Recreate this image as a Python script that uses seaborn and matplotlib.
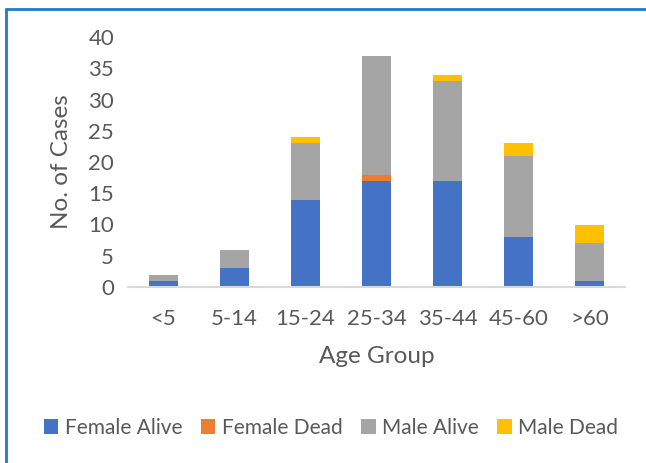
import numpy as np
import pandas as pd
import matplotlib
matplotlib.use("Agg")
import matplotlib.pyplot as plt
import seaborn as sns
from matplotlib.lines import Line2D
from matplotlib.patches import Patch

age_groups = ["<5", "5-14", "15-24", "25-34", "35-44", "45-60", ">60"]
female_alive = [1, 3, 14, 17, 17, 8, 1]
female_dead = [0, 0, 0, 1, 0, 0, 0]
male_alive = [1, 3, 9, 19, 16, 13, 6]
male_dead = [0, 0, 1, 0, 1, 2, 3]

series_names = ["Female Alive", "Female Dead", "Male Alive", "Male Dead"]
colors = ["#4472C4", "#ED7D31", "#A5A5A5", "#FFC000"]

sns.set_theme(style="white")
plt.rcParams["font.family"] = ["Lato", "DejaVu Sans"]

df = pd.DataFrame({
    "Age Group": age_groups,
    "Female Alive": female_alive,
    "Female Dead": female_dead,
    "Male Alive": male_alive,
    "Male Dead": male_dead,
})
cum = df[series_names].cumsum(axis=1)

fig = plt.figure(figsize=(6.46, 4.63), dpi=100)
ax = fig.add_axes([128 / 646, 1 - 287 / 463, (625 - 128) / 646, (287 - 37) / 463])

# layered cumulative bars (top series first)
for name, col in reversed(list(zip(series_names, colors))):
    sns.barplot(x=df["Age Group"], y=cum[name], color=col, width=0.4,
                saturation=1, ax=ax, linewidth=0, order=age_groups)

ax.set_ylim(0, 40)
ax.set_yticks(range(0, 41, 5))
ax.set_xlim(-0.5, 6.5)
text_col = "#595959"
ax.tick_params(axis="both", labelsize=16, colors=text_col, length=0)
ax.tick_params(axis="x", pad=16)
ax.tick_params(axis="y", pad=10)
for s in ["top", "right", "left"]:
    ax.spines[s].set_visible(False)
ax.spines["bottom"].set_color("#D9D9D9")
ax.spines["bottom"].set_linewidth(1.5)
ax.set_xlabel("Age Group", fontsize=17.5, color=text_col, labelpad=12)
ax.set_ylabel("No. of Cases", fontsize=17.5, color=text_col, labelpad=12)
ax.grid(False)

handles = [Patch(facecolor=c, edgecolor="none", label=n) for n, c in zip(series_names, colors)]
fig.legend(handles=handles, loc="center", bbox_to_anchor=(331 / 646, 1 - 428 / 463),
           ncol=4, frameon=False, fontsize=15, handlelength=0.7, handleheight=0.7,
           handletextpad=0.3, columnspacing=0.9, labelcolor=text_col)

# outer blue frame (top and left)
bcol = "#1F7BC8"
fig.add_artist(Line2D([6 / 646, 6 / 646], [0, 1 - 9 / 463], color=bcol, lw=2, transform=fig.transFigure))
fig.add_artist(Line2D([6 / 646, 1], [1 - 9 / 463, 1 - 9 / 463], color=bcol, lw=2, transform=fig.transFigure))

fig.savefig("out.png", dpi=100, facecolor="white")
